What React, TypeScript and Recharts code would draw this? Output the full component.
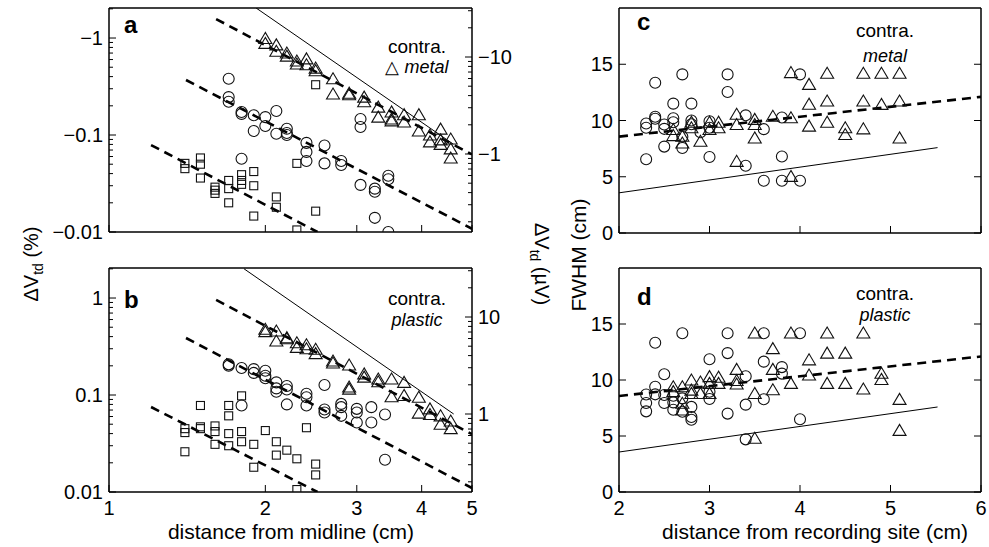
import React from "react";
import { ComposedChart, Scatter, Line, XAxis, YAxis } from "recharts";

type Pt = [number, number];

// panel a: contra, metal electrodes, |ΔVtd| in % (drawn with a minus sign)
const aTriangles: Pt[] = [
  [2.0, 0.99], [2.0, 0.88], [2.1, 0.85], [2.1, 0.73], [2.2, 0.7], [2.2, 0.65],
  [2.3, 0.58], [2.3, 0.54], [2.4, 0.61], [2.4, 0.53], [2.5, 0.49], [2.5, 0.46],
  [2.7, 0.38], [2.7, 0.265], [2.9, 0.27], [2.9, 0.26], [3.1, 0.246], [3.1, 0.22],
  [3.3, 0.194], [3.3, 0.153], [3.5, 0.173], [3.5, 0.146], [3.5, 0.14], [3.7, 0.162],
  [3.7, 0.136], [3.95, 0.162], [3.95, 0.11], [4.15, 0.1], [4.15, 0.085], [4.35, 0.115],
  [4.35, 0.089], [4.35, 0.08], [4.55, 0.091], [4.55, 0.072], [4.55, 0.058],
];
const aCircles: Pt[] = [
  [1.7, 0.38], [1.7, 0.246], [1.7, 0.22], [1.8, 0.173], [1.8, 0.165], [1.8, 0.057],
  [1.9, 0.16], [1.9, 0.11], [2.0, 0.153], [2.0, 0.124], [2.1, 0.177], [2.1, 0.103],
  [2.2, 0.116], [2.2, 0.105], [2.2, 0.1], [2.4, 0.083], [2.4, 0.067], [2.4, 0.054],
  [2.6, 0.078], [2.6, 0.051], [2.8, 0.054], [2.8, 0.049], [3.05, 0.146], [3.05, 0.121],
  [3.05, 0.0306], [3.25, 0.028], [3.25, 0.026], [3.25, 0.014], [3.45, 0.038],
  [3.45, 0.035], [3.45, 0.01],
];
const aSquares: Pt[] = [
  [1.4, 0.051], [1.4, 0.045], [1.5, 0.058], [1.5, 0.05], [1.5, 0.036], [1.6, 0.029],
  [1.6, 0.027], [1.6, 0.025], [1.7, 0.034], [1.7, 0.028], [1.7, 0.02], [1.8, 0.039],
  [1.8, 0.034], [1.8, 0.031], [1.9, 0.042], [1.9, 0.03], [1.9, 0.0146], [2.1, 0.023],
  [2.1, 0.018], [2.3, 0.051], [2.3, 0.0105], [2.5, 0.33], [2.5, 0.0164],
];
const aFitTri: Pt[] = [[1.608, 1.57], [5, 0.063]];
const aFitCirc: Pt[] = [[1.407, 0.369], [5, 0.0108]];
const aFitSq: Pt[] = [[1.205, 0.0788], [2.52, 0.01]];
const aTheory: Pt[] = [[1.92, 2.04], [4.6, 0.0807]];

// panel b: contra, plastic electrodes, ΔVtd in %
const bTriangles: Pt[] = [
  [2.0, 0.476], [2.0, 0.45], [2.1, 0.457], [2.1, 0.36], [2.2, 0.39], [2.2, 0.38],
  [2.3, 0.346], [2.3, 0.31], [2.4, 0.33], [2.4, 0.3], [2.5, 0.296], [2.5, 0.267],
  [2.7, 0.224], [2.7, 0.214], [2.9, 0.204], [2.9, 0.121], [2.9, 0.115], [3.1, 0.165],
  [3.1, 0.153], [3.3, 0.146], [3.3, 0.137], [3.5, 0.146], [3.5, 0.096], [3.7, 0.135],
  [3.7, 0.099], [3.95, 0.095], [3.95, 0.065], [4.15, 0.072], [4.15, 0.063],
  [4.35, 0.061], [4.35, 0.05], [4.55, 0.054], [4.55, 0.045],
];
const bCircles: Pt[] = [
  [1.7, 0.207], [1.7, 0.2], [1.8, 0.19], [1.8, 0.078], [1.9, 0.185], [1.9, 0.169],
  [2.0, 0.178], [2.0, 0.158], [2.0, 0.149], [2.1, 0.135], [2.1, 0.117], [2.1, 0.108],
  [2.2, 0.124], [2.2, 0.114], [2.2, 0.08], [2.4, 0.103], [2.4, 0.095], [2.4, 0.078],
  [2.6, 0.127], [2.6, 0.071], [2.6, 0.066], [2.8, 0.081], [2.8, 0.075], [2.8, 0.061],
  [3.0, 0.072], [3.0, 0.066], [3.0, 0.052], [3.2, 0.075], [3.2, 0.052], [3.4, 0.063],
  [3.4, 0.0215],
];
const bSquares: Pt[] = [
  [1.4, 0.045], [1.4, 0.041], [1.4, 0.026], [1.5, 0.078], [1.5, 0.047], [1.5, 0.045],
  [1.6, 0.048], [1.6, 0.042], [1.6, 0.031], [1.7, 0.078], [1.7, 0.061], [1.7, 0.04],
  [1.7, 0.03], [1.8, 0.098], [1.8, 0.042], [1.8, 0.033], [1.9, 0.031], [1.9, 0.018],
  [2.0, 0.043], [2.1, 0.033], [2.1, 0.024], [2.2, 0.027], [2.3, 0.022], [2.3, 0.0106],
  [2.4, 0.046], [2.5, 0.0194], [2.5, 0.015],
];
const bFitTri: Pt[] = [[1.608, 0.955], [5, 0.0395]];
const bFitCirc: Pt[] = [[1.407, 0.387], [5, 0.011]];
const bFitSq: Pt[] = [[1.205, 0.0752], [2.52, 0.01]];
const bTheory: Pt[] = [[1.82, 2.0], [4.61, 0.0637]];

// panel c: FWHM vs distance from recording site, metal
const cCircles: Pt[] = [
  [2.3, 9.73], [2.3, 9.35], [2.3, 6.55], [2.4, 13.36], [2.4, 10.33], [2.4, 10.15],
  [2.5, 9.64], [2.5, 9.26], [2.5, 7.68], [2.6, 11.5], [2.6, 10.2], [2.6, 9.85],
  [2.7, 14.1], [2.7, 8.56], [2.7, 7.56], [2.8, 11.5], [2.8, 10.0], [2.8, 9.67],
  [2.9, 8.96], [3.0, 9.94], [3.0, 9.35], [3.0, 6.76], [3.2, 14.1], [3.2, 12.53],
  [3.4, 10.46], [3.4, 5.98], [3.6, 9.23], [3.6, 4.64], [3.8, 10.27], [3.8, 6.8],
  [3.8, 4.64], [4.0, 14.1], [4.0, 4.64],
];
const cTriangles: Pt[] = [
  [2.6, 9.2], [2.6, 8.66], [2.7, 8.6], [2.7, 8.0], [2.8, 9.85], [2.8, 9.35],
  [2.9, 8.15], [3.0, 9.85], [3.0, 9.2], [3.1, 9.85], [3.1, 9.35], [3.3, 10.55],
  [3.3, 9.64], [3.3, 6.37], [3.5, 10.1], [3.5, 9.64], [3.5, 8.45], [3.7, 10.38],
  [3.9, 14.26], [3.9, 10.24], [3.9, 5.03], [4.1, 13.21], [4.1, 11.45], [4.1, 9.5],
  [4.3, 14.2], [4.3, 11.73], [4.3, 9.85], [4.5, 9.35], [4.5, 8.75], [4.7, 14.2],
  [4.7, 11.73], [4.7, 9.26], [4.9, 14.2], [4.9, 11.43], [5.1, 14.2], [5.1, 11.73],
  [5.1, 8.45],
];

// panel d: FWHM vs distance from recording site, plastic
const dCircles: Pt[] = [
  [2.3, 8.7], [2.3, 7.95], [2.3, 7.2], [2.4, 13.33], [2.4, 9.4], [2.4, 8.72],
  [2.5, 10.52], [2.5, 8.66], [2.5, 7.95], [2.6, 8.6], [2.6, 8.0], [2.6, 7.35],
  [2.7, 14.17], [2.7, 8.36], [2.7, 7.17], [2.8, 7.6], [2.8, 6.7], [2.8, 6.45],
  [3.0, 11.85], [3.0, 8.95], [3.0, 8.3], [3.2, 14.17], [3.2, 12.4], [3.2, 7.0],
  [3.4, 10.33], [3.4, 7.8], [3.4, 4.7], [3.6, 14.17], [3.6, 11.64], [3.6, 8.28],
  [3.8, 11.15], [3.8, 10.57], [4.0, 14.17], [4.0, 6.49],
];
const dTriangles: Pt[] = [
  [2.6, 9.4], [2.6, 8.96], [2.7, 9.4], [2.7, 7.92], [2.7, 7.32], [2.8, 10.0],
  [2.8, 9.1], [2.8, 8.8], [2.9, 9.82], [2.9, 8.8], [3.0, 10.3], [3.0, 9.7],
  [3.0, 8.8], [3.1, 10.25], [3.1, 9.7], [3.3, 10.95], [3.3, 9.95], [3.3, 9.64],
  [3.5, 14.2], [3.5, 8.8], [3.5, 4.8], [3.7, 12.8], [3.7, 10.95], [3.7, 9.13],
  [3.9, 14.2], [3.9, 9.7], [4.1, 11.8], [4.1, 10.45], [4.3, 14.2], [4.3, 12.4],
  [4.3, 9.7], [4.5, 12.4], [4.5, 9.7], [4.7, 14.2], [4.7, 9.2], [4.9, 10.6],
  [4.9, 10.05], [5.1, 8.27], [5.1, 5.5],
];
const fwhmFit: Pt[] = [[2, 8.57], [6, 12.1]];
const fwhmTheory: Pt[] = [[2, 3.57], [5.52, 7.59]];

// axes
const midlineTicks = [1, 2, 3, 4, 5];
const pctTicks = [
  0.01, 0.02, 0.03, 0.04, 0.05, 0.06, 0.07, 0.08, 0.09,
  0.1, 0.2, 0.3, 0.4, 0.5, 0.6, 0.7, 0.8, 0.9, 1, 2,
];
const pctMajor = [0.01, 0.1, 1];
const uvTicks = [
  0.2, 0.3, 0.4, 0.5, 0.6, 0.7, 0.8, 0.9, 1, 2, 3, 4, 5, 6, 7, 8, 9, 10, 20, 30,
];
const uvMajor = [1, 10];
const siteTicks = [2, 3, 4, 5, 6];
const fwhmTicks = [0, 5, 10, 15];

const PCT_DOMAIN: [number, number] = [0.01, 2.04];
const UV_DOMAIN: [number, number] = [0.157, 32];

const FONT = "'Liberation Sans', Arial, Helvetica, sans-serif";
const MINUS = "\u2212";
const INK = "#111";

const toObj = (pts: Pt[]) => pts.map(([x, y]) => ({ x, y }));

const CircleShape = (p: any) => (
  <circle cx={p.cx} cy={p.cy} r={5.5} fill="none" stroke={INK} strokeWidth={1.1} />
);
const TriShape = (p: any) => (
  <polygon
    points={`${p.cx},${p.cy - 6} ${p.cx - 6.5},${p.cy + 5} ${p.cx + 6.5},${p.cy + 5}`}
    fill="none"
    stroke={INK}
    strokeWidth={1.1}
  />
);
const SquareShape = (p: any) => (
  <rect x={p.cx - 4} y={p.cy - 4} width={8} height={8} fill="none" stroke={INK} strokeWidth={1.1} />
);

type Side = "left" | "right" | "top" | "bottom";

function makeTick(side: Side, major: number[] | null, fmt: ((v: number) => string) | null, fontSize: number) {
  return (p: any) => {
    const { x, y, payload } = p;
    const v = payload.value as number;
    const isMajor = !major || major.some((m) => Math.abs(m - v) < 1e-9);
    const len = isMajor ? 7 : 4;
    const label = fmt && isMajor ? fmt(v) : null;
    let line: React.ReactNode = null;
    let text: React.ReactNode = null;
    const ts = { fontFamily: FONT, fontSize, fill: "#000" };
    if (side === "left") {
      line = <line x1={x} y1={y} x2={x + len} y2={y} stroke="#000" />;
      if (label) text = <text x={x - 6} y={y + 7} textAnchor="end" {...ts}>{label}</text>;
    } else if (side === "right") {
      line = <line x1={x} y1={y} x2={x - len} y2={y} stroke="#000" />;
      if (label) text = <text x={x + 6} y={y + 7} textAnchor="start" {...ts}>{label}</text>;
    } else if (side === "bottom") {
      line = <line x1={x} y1={y} x2={x} y2={y - len} stroke="#000" />;
      if (label) text = <text x={x} y={y + 23} textAnchor="middle" {...ts}>{label}</text>;
    } else {
      line = <line x1={x} y1={y} x2={x} y2={y + len} stroke="#000" />;
    }
    return (
      <g>
        {line}
        {text}
      </g>
    );
  };
}

type PanelProps = {
  left: number;
  top: number;
  width: number;
  height: number;
  leftW: number;
  rightW: number;
  bottomH: number;
  xScale: "log" | "linear";
  xDomain: [number, number];
  xTicks: number[];
  showX: boolean;
  yScale: "log" | "linear";
  yDomain: [number, number];
  yTicks: number[];
  yMajor: number[] | null;
  yFmt: (v: number) => string;
  rDomain: [number, number];
  rTicks: number[];
  rMajor: number[] | null;
  rFmt: ((v: number) => string) | null;
  circles: Pt[];
  triangles: Pt[];
  squares: Pt[];
  fits: Pt[][];
  theory: Pt[];
  fs: number;
};

function Panel(props: PanelProps) {
  const frame = { stroke: "#000", strokeWidth: 1.5 };
  return (
    <div style={{ position: "absolute", left: props.left, top: props.top }}>
      <ComposedChart
        width={props.width}
        height={props.height}
        margin={{ top: 0, right: 0, bottom: 0, left: 0 }}
      >
        <XAxis
          dataKey="x"
          type="number"
          scale={props.xScale}
          domain={props.xDomain}
          allowDataOverflow
          ticks={props.xTicks}
          interval={0}
          height={props.bottomH}
          tickSize={0}
          tickMargin={0}
          tickLine={false}
          axisLine={frame}
          tick={makeTick("bottom", null, props.showX ? (v) => String(v) : null, props.fs)}
        />
        <XAxis
          xAxisId="top"
          orientation="top"
          type="number"
          scale={props.xScale}
          domain={props.xDomain}
          allowDataOverflow
          ticks={props.xTicks}
          interval={0}
          height={8}
          tickSize={0}
          tickMargin={0}
          tickLine={false}
          axisLine={frame}
          tick={makeTick("top", null, null, props.fs)}
        />
        <YAxis
          dataKey="y"
          type="number"
          scale={props.yScale}
          domain={props.yDomain}
          allowDataOverflow
          ticks={props.yTicks}
          interval={0}
          width={props.leftW}
          tickSize={0}
          tickMargin={0}
          tickLine={false}
          axisLine={frame}
          tick={makeTick("left", props.yMajor, props.yFmt, props.fs)}
        />
        <YAxis
          yAxisId="right"
          orientation="right"
          type="number"
          scale={props.yScale}
          domain={props.rDomain}
          allowDataOverflow
          ticks={props.rTicks}
          interval={0}
          width={props.rightW}
          tickSize={0}
          tickMargin={0}
          tickLine={false}
          axisLine={frame}
          tick={makeTick("right", props.rMajor, props.rFmt, props.fs)}
        />
        <Scatter data={toObj(props.squares)} shape={SquareShape} isAnimationActive={false} />
        <Scatter data={toObj(props.circles)} shape={CircleShape} isAnimationActive={false} />
        <Scatter data={toObj(props.triangles)} shape={TriShape} isAnimationActive={false} />
        {props.fits.map((f, i) => (
          <Line
            key={i}
            data={toObj(f)}
            dataKey="y"
            type="linear"
            stroke="#000"
            strokeWidth={2.6}
            strokeDasharray="9 6"
            dot={false}
            activeDot={false}
            isAnimationActive={false}
          />
        ))}
        <Line
          data={toObj(props.theory)}
          dataKey="y"
          type="linear"
          stroke="#000"
          strokeWidth={1}
          dot={false}
          activeDot={false}
          isAnimationActive={false}
        />
      </ComposedChart>
    </div>
  );
}

const neg = (v: number) => MINUS + String(v);
const plain = (v: number) => String(v);

export default function App() {
  const txt = { fontFamily: FONT, fill: "#000" } as const;
  return (
    <div style={{ position: "absolute", left: 0, top: 0, width: 989, height: 547, background: "#fff" }}>
      <Panel
        left={0} top={0} width={560} height={260}
        leftW={109} rightW={88} bottomH={28}
        xScale="log" xDomain={[1, 5]} xTicks={midlineTicks} showX={false}
        yScale="log" yDomain={PCT_DOMAIN} yTicks={pctTicks} yMajor={pctMajor} yFmt={neg}
        rDomain={UV_DOMAIN} rTicks={uvTicks} rMajor={uvMajor} rFmt={neg}
        circles={aCircles} triangles={aTriangles} squares={aSquares}
        fits={[aFitTri, aFitCirc, aFitSq]} theory={aTheory} fs={20}
      />
      <Panel
        left={0} top={260} width={560} height={287}
        leftW={109} rightW={88} bottomH={55}
        xScale="log" xDomain={[1, 5]} xTicks={midlineTicks} showX
        yScale="log" yDomain={PCT_DOMAIN} yTicks={pctTicks} yMajor={pctMajor} yFmt={plain}
        rDomain={UV_DOMAIN} rTicks={uvTicks} rMajor={uvMajor} rFmt={plain}
        circles={bCircles} triangles={bTriangles} squares={bSquares}
        fits={[bFitTri, bFitCirc, bFitSq]} theory={bTheory} fs={20}
      />
      <Panel
        left={560} top={0} width={429} height={260}
        leftW={59} rightW={8} bottomH={27}
        xScale="linear" xDomain={[2, 6]} xTicks={siteTicks} showX={false}
        yScale="linear" yDomain={[0, 20]} yTicks={fwhmTicks} yMajor={null} yFmt={plain}
        rDomain={[0, 20]} rTicks={fwhmTicks} rMajor={null} rFmt={null}
        circles={cCircles} triangles={cTriangles} squares={[]}
        fits={[fwhmFit]} theory={fwhmTheory} fs={20}
      />
      <Panel
        left={560} top={260} width={429} height={287}
        leftW={59} rightW={8} bottomH={55}
        xScale="linear" xDomain={[2, 6]} xTicks={siteTicks} showX
        yScale="linear" yDomain={[0, 20]} yTicks={fwhmTicks} yMajor={null} yFmt={plain}
        rDomain={[0, 20]} rTicks={fwhmTicks} rMajor={null} rFmt={null}
        circles={dCircles} triangles={dTriangles} squares={[]}
        fits={[fwhmFit]} theory={fwhmTheory} fs={20}
      />
      <svg
        width={989}
        height={547}
        style={{ position: "absolute", left: 0, top: 0, pointerEvents: "none" }}
      >
        <text x={124} y={33} fontSize={24} fontWeight="bold" {...txt}>a</text>
        <text x={124} y={308} fontSize={24} fontWeight="bold" {...txt}>b</text>
        <text x={637} y={30} fontSize={24} fontWeight="bold" {...txt}>c</text>
        <text x={637} y={305} fontSize={24} fontWeight="bold" {...txt}>d</text>

        <text x={417} y={53} fontSize={19} textAnchor="middle" {...txt}>contra.</text>
        <text x={417} y={73} fontSize={18} textAnchor="middle" {...txt}>
          <tspan fontStyle="normal">{"\u25B3 "}</tspan>
          <tspan fontStyle="italic">metal</tspan>
        </text>
        <text x={417} y={305} fontSize={19} textAnchor="middle" {...txt}>contra.</text>
        <text x={417} y={326} fontSize={18} textAnchor="middle" fontStyle="italic" {...txt}>plastic</text>
        <text x={885} y={37} fontSize={19} textAnchor="middle" {...txt}>contra.</text>
        <text x={885} y={62} fontSize={18} textAnchor="middle" fontStyle="italic" {...txt}>metal</text>
        <text x={885} y={300} fontSize={19} textAnchor="middle" {...txt}>contra.</text>
        <text x={885} y={321} fontSize={18} textAnchor="middle" fontStyle="italic" {...txt}>plastic</text>

        <text x={291} y={539} fontSize={21} textAnchor="middle" {...txt}>distance from midline (cm)</text>
        <text x={815} y={539} fontSize={21} textAnchor="middle" {...txt}>distance from recording site (cm)</text>

        <text x={38} y={264} fontSize={20} textAnchor="middle" transform="rotate(-90 38 264)" {...txt}>
          ΔV<tspan fontSize={14} dy={5}>td</tspan>
          <tspan dy={-5}> (%)</tspan>
        </text>
        <text x={535} y={264} fontSize={20} textAnchor="middle" transform="rotate(90 535 264)" {...txt}>
          ΔV<tspan fontSize={14} dy={5}>td</tspan>
          <tspan dy={-5}> (µV)</tspan>
        </text>
        <text x={586} y={255} fontSize={21} textAnchor="middle" transform="rotate(-90 586 255)" {...txt}>
          FWHM (cm)
        </text>
      </svg>
    </div>
  );
}
